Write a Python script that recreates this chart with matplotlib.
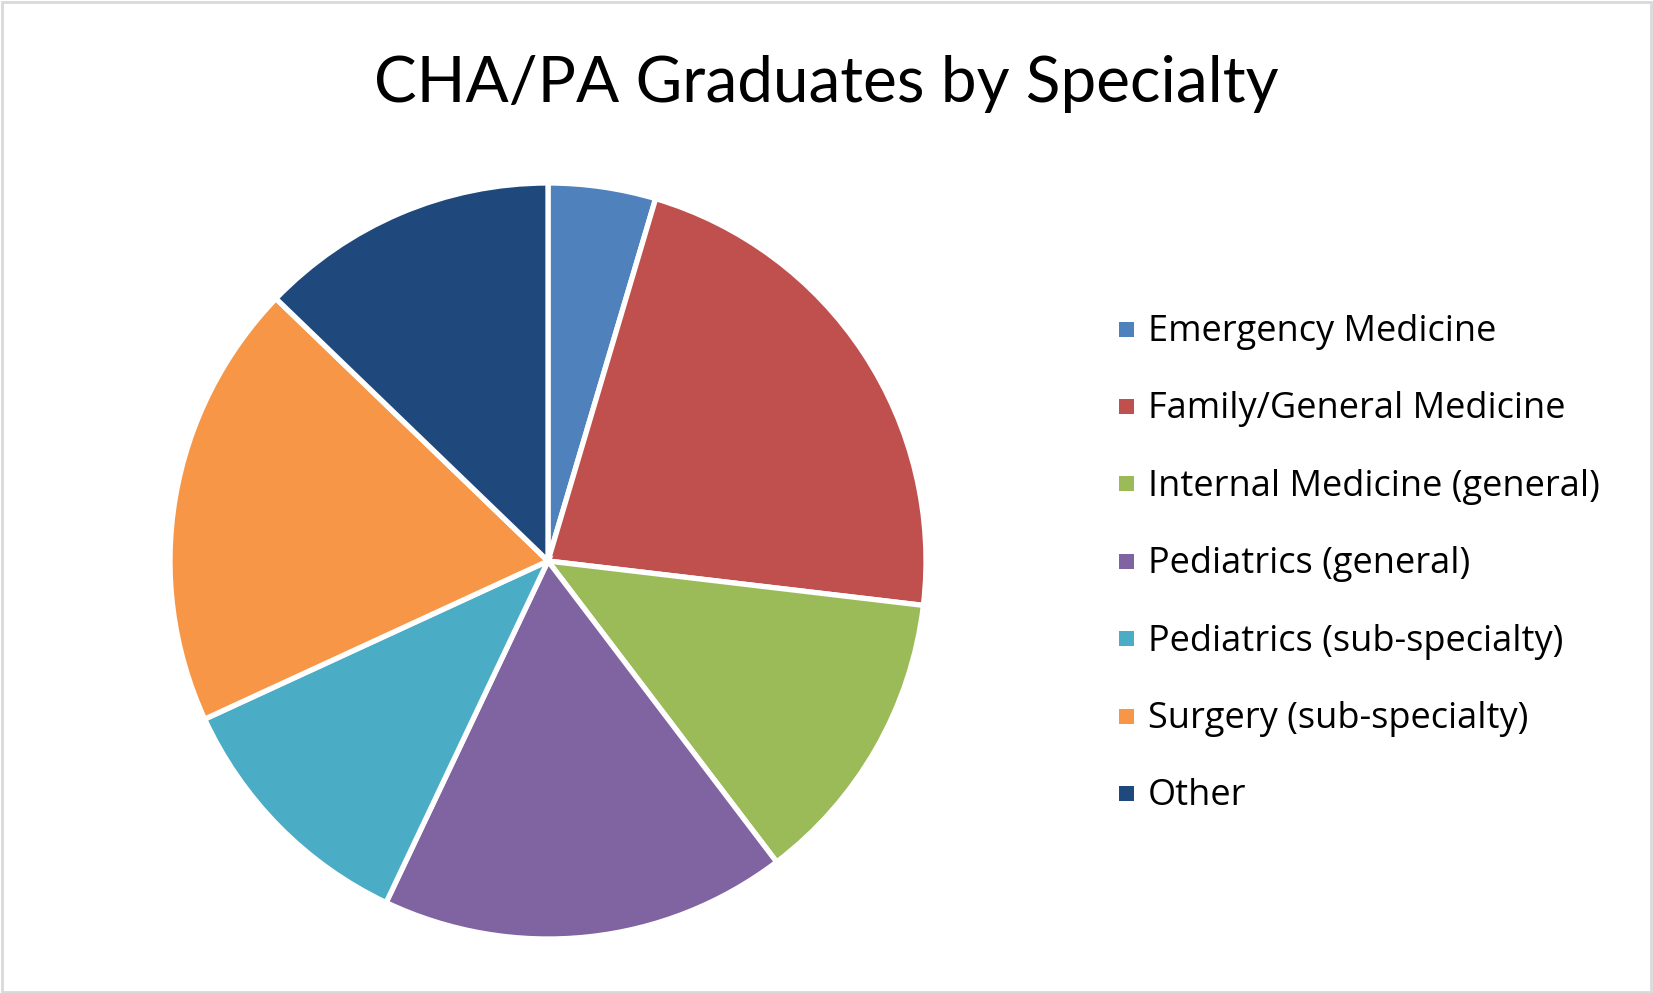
import matplotlib.pyplot as plt
import matplotlib.patches as mpatches

# pie data (percent of graduates)
labels = ['Emergency Medicine', 'Family/General Medicine', 'Internal Medicine (general)',
          'Pediatrics (general)', 'Pediatrics (sub-specialty)', 'Surgery (sub-specialty)', 'Other']
shares = [4.6, 22.3, 12.8, 17.4, 11.1, 19.1, 12.8]
colors = ['#4F81BD', '#C0504D', '#9BBB59', '#8064A2', '#4BACC6', '#F79646', '#1F497D']

plt.rcParams['font.family'] = ['Lato', 'DejaVu Sans']

W, H = 1653, 993
fig = plt.figure(figsize=(W / 100, H / 100), dpi=100)

# pie axes: centre (548, 561) px, radius ~376 px
r = 378
cx, cy = 548, 561
ax = fig.add_axes([(cx - r) / W, (H - cy - r) / H, 2 * r / W, 2 * r / H])
ax.pie(shares, colors=colors, startangle=90, counterclock=False,
       wedgeprops=dict(edgecolor='white', linewidth=3.8))
ax.set_xlim(-1.0, 1.0)
ax.set_ylim(-1.0, 1.0)
ax.set_aspect('equal')

fig.text(826 / W, 1 - 84 / H, 'CHA/PA Graduates by Specialty', ha='center', va='center', fontsize=46)

# legend drawn by hand to match the spacing of the original
y0, step = 329, 77.4
sq = 15
for i, (lab, col) in enumerate(zip(labels, colors)):
    y = y0 + i * step
    fig.patches.append(mpatches.Rectangle(((1126 - sq / 2) / W, 1 - (y + sq / 2) / H), sq / W, sq / H,
                                          facecolor=col, edgecolor='none', transform=fig.transFigure))
    fig.text(1148 / W, 1 - (y + 3) / H, lab, ha='left', va='center', fontsize=26,
             family=['Open Sans', 'DejaVu Sans'])

# thin grey frame round the chart area
fig.patches.append(mpatches.Rectangle((0.001, 0.001), 0.998, 0.997, fill=False, edgecolor='#D9D9D9',
                                      linewidth=2, transform=fig.transFigure))

fig.savefig('out.png', dpi=100)
